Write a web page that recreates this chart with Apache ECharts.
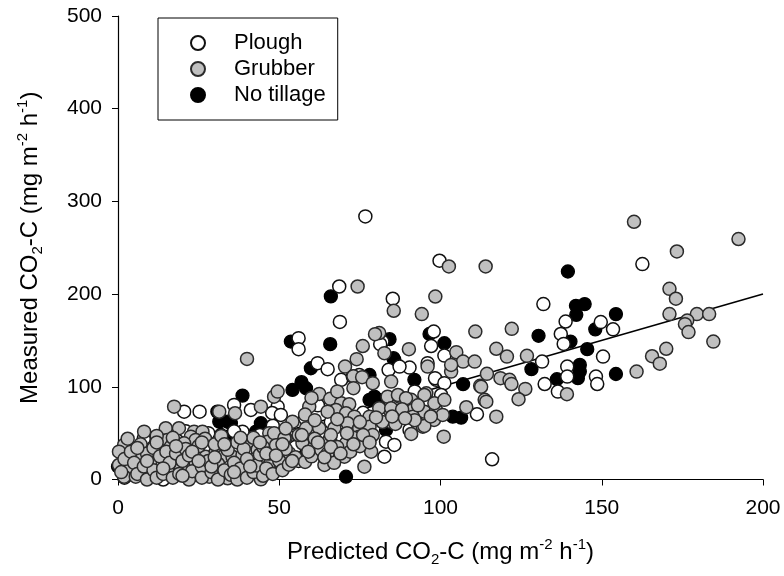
<!DOCTYPE html>
<html>
<head>
<meta charset="utf-8">
<script src="https://cdn.jsdelivr.net/npm/echarts@6/dist/echarts.min.js"></script>
<style>
  html, body { margin: 0; padding: 0; background: #fff; }
  #chart { width: 784px; height: 576px; }
</style>
</head>
<body>
<div id="chart"></div>
<script>
// Measured vs predicted soil CO2-C flux for three tillage systems.
const seriesNames = ['Plough', 'Grubber', 'No tillage'];
const xTicks = [0, 50, 100, 150, 200];
const yTicks = [0, 100, 200, 300, 400, 500];

// [predicted, measured] in mg m-2 h-1
const plough = [
  [76.7,283.8],[99.7,236],[162.6,232.4],[68.6,208.2],[68.8,170],[85.2,195],[131.9,189.2],[149.7,169.8],
  [153.5,162],[138.8,170.4],[137.3,157],[138.2,146.3],[150.4,132.6],[131.5,127.2],[132.3,103],[136.4,94.8],
  [139.3,121.8],[139.3,111],[148.2,111],[148.6,103],[111.3,70.4],[116,21.8],[97.9,159.6],[97.1,144],
  [90.4,120.7],[98.7,107.5],[90.4,53.5],[84.2,62.4],[83.1,40.8],[85.7,37.3],[82.6,24.6],[82,148.8],
  [56,152.5],[56,140.6],[81.3,146],[83.9,118.3],[61.9,125.5],[65,119],[69.2,107.5],[72.8,111],
  [74.8,112.8],[87.3,121.8],[96,125.5],[98.3,109.3],[101.2,103.9],[49.5,78.6],[51,58.9],[52.6,24.6],
  [20.5,73.2],[25.3,73.2],[36,80.5],[41.2,75],[38.6,51.6],[101.2,133.7],[100.2,91.2],
  [2,2],[4,12],[6,24],[10,32],[14,0],[16,40],[19,16],[24,28],[27,5],[30,44],[33,20],[36,52],
  [39,8],[41,30],[44,48],[46,20],[48,58],[47.8,71.8],[50.5,69.7],[53,46],[55,35],[58,66],
  [62,80],[64,38],[66,62],[69,48],[74,40],[76,72],[87,82],[92,95],[93,60],[96,84],
  [8,44],[21,52],[28,50],[45,12],[56,20]
];

const grubber = [
  [160,278],[192.4,259.4],[173.3,246],[171,205.7],[173,195],[171,178.4],[179.5,178.4],[183.3,178.4],
  [176.5,171.5],[175.8,167.6],[176.9,159],[184.6,148.8],[170,141],[165.6,133],[168,125],[160.8,116.4],
  [102.6,229.8],[114,229.8],[74.3,208.2],[110.8,159.6],[122.1,162.5],[117.3,141],[120.6,132.6],[126.8,133.4],
  [114.4,114],[118.6,109.3],[121.4,107.5],[122,103],[126.3,97.7],[124.2,86.6],[139.2,92],[112.3,101],
  [113.7,85.9],[117.3,67.8],[101,46.2],[104.9,137.4],[107,127.2],[110.6,127.2],[103.3,116.4],[103.3,123.6],
  [85.5,182],[94.2,178.4],[98.4,197.4],[82.6,136.3],[90.2,140.6],[96,121.8],[84.7,105.6],[95.6,93],
  [83.6,89.4],[87.3,89.4],[90.9,85.9],[112.6,100],[114.2,84],[84.2,75],[91.4,75],[95,73.2],
  [98.6,75],[98,64.3],[94.5,57],[90.9,49.1],[81,158],[79.7,156.8],[75.9,144],[74,129.8],
  [70.4,121.8],[73,111.4],[75.7,110.4],[73,98.5],[79,103.9],[48.4,89.4],[49.5,94.8],[62.4,92.3],
  [65.8,87],[69.2,82.3],[71.7,81.2],[67.6,75],[86.8,91.2],[89.3,87.7],[95,91.2],[98.1,82.3],
  [101.2,85.9],[59.3,78.6],[65,73.2],[70.7,71.5],[73.3,67.8],[78,67.8],[81,76.9],[84.7,76.9],
  [88.1,75.8],[91.4,67.8],[95,57.8],[100.7,69.7],[54.1,62.4],[58.3,55.3],[62.4,55.3],[67.1,55.3],
  [71.2,60.7],[74.8,55.3],[78,57],[48.4,42.7],[52,44.5],[57.2,39.1],[60.9,35.4],[65.5,42.7],
  [70.7,39.1],[74.8,46.2],[78.5,30],[76.4,13.8],[70.2,24.6],[64,15.7],[53.1,28.3],[46.9,50],
  [47.4,17.5],[17.4,78.6],[36.3,71.5],[31.4,73.2],[44.3,78.6],[40,130.1],[8.1,51.6],[14.8,55.3],
  [18.9,55.3],[23.6,51.6],[26.2,51.6],[1.9,37.3],[0.3,30],[15.3,42.7],[16.4,35.4],[22.6,46.2],
  [24.1,42.7],[20.5,39.1],[40.2,40.8],[43.3,31.9],[46.4,40.8],[48.4,50],[51.6,44.5],[27.2,24.6],
  [30.3,30],[32.4,24.6],[35.5,24.6],[38.6,26.5],[41.7,21],[47.4,19.2],[0.3,15.7],[3.9,12.1],
  [7,26.5],[10.7,19.2],[13.8,15.7],[17.4,22.9],[21.5,13.8],[24.1,17.5],[1.9,3],[5.5,3],
  [10.2,4.9],[15.3,10.3],[19.5,12.1],[23.6,4.9],[28.3,3],[34,1.3],[44.3,0.2],
  [1,8],[2,22],[4,30],[5,18],[6,6],[7,38],[8,14],[9,0],[9,28],[11,10],[11,34],[12,2],
  [12,47],[13,25],[14,6],[15,30],[16,18],[17,2],[17,45],[18,28],[19,6],[20,20],[21,33],[22,0],
  [22,26],[23,9],[25,36],[26,14],[26,2],[27,44],[28,20],[29,8],[30,38],[31,0],[31,17],[32,47],
  [33,10],[34,32],[35,5],[36,18],[37,40],[37,0],[38,12],[39,33],[40,2],[40,22],[42,8],[42,45],
  [43,15],[44,27],[45,4],[45,35],[46,12],[47,28],[48,6],[49,37],[50,20],[51,10],[52,33],[53,16],
  [55,24],[56,48],[58,19],[60,25],[61,44],[63,32],[65,28],[66,48],[67,18],[68,35],[72,30],[73,45],
  [75,36],[79,48],[82,62],[86,60],[92,64],[108,78],
  [3,44],[6,34],[9,20],[12,40],[14,12],[18,36],[20,4],[23,30],[25,20],[26,40],[29,14],[30,24],
  [33,38],[36,8],[38,45],[41,14],[44,40],[46,28],[49,26],[51,38],[54,20],[57,48],[59,30],[62,40],
  [64,24],[66,35],[69,28],[71,50],[73,38],[76,48],[78,40],[58,70],[61,64],[68,65],[75,62],[80,67],
  [85,68],[89,66],[93,80],[97,68],[60,88],[68,95],[52,55]
];

const noTillage = [
  [139.5,224.4],[142,187.4],[144.7,189.2],[142.1,177.6],[154.4,178.4],[148,162],[140.3,148.8],[130.4,155],
  [145.5,140.6],[128.2,119],[136.1,108.2],[143.2,123.6],[143.2,116.4],[142.6,109.3],[154.4,113.8],[107,102.8],
  [103.8,67.8],[106.4,66.7],[101.2,147],[96.6,157],[84.2,151.4],[85.7,129],[91.9,107.5],[83.1,53.5],
  [66,197.5],[53.6,148.8],[65.8,146],[85.4,130.9],[59.8,120],[78,112.8],[56.9,105],[54.1,96.6],
  [58.3,98.5],[79.5,89.4],[81,85.9],[78,85.9],[70.7,3],[57.2,30],[38.6,90.5],[31.4,62.4],
  [34,62.4],[44.3,60.7],[31.9,48],[34,46.2],[10.2,44.5],[42.8,51.6],[30.8,73.2],[35,60.7],[0,14]
];

// 1:1 reference line
const oneToOne = [[0, 0], [200, 200]];

const FONT = 'Arial, "Liberation Sans", sans-serif';

function axisTitle(pre) {
  return '{t|' + pre + ' CO}{sub|2}{t|-C (mg m}{sup|-2}{t| h}{sup|-1}{t|)}';
}
const titleRich = {
  t:   { fontSize: 24, lineHeight: 30, fontFamily: FONT, color: '#000' },
  sub: { fontSize: 15, lineHeight: 13, verticalAlign: 'bottom', fontFamily: FONT, color: '#000' },
  sup: { fontSize: 15, lineHeight: 13, verticalAlign: 'top', fontFamily: FONT, color: '#000' }
};

const markerBase = { symbol: 'circle', symbolSize: 13 };

const chart = echarts.init(document.getElementById('chart'), null, { renderer: 'canvas' });
chart.setOption({
  animation: false,
  backgroundColor: '#fff',
  grid: { left: 118, right: 21, top: 16, bottom: 96.5, containLabel: false },
  legend: {
    data: seriesNames,
    orient: 'vertical',
    left: 158, top: 18,
    padding: [14, 12, 14, 32],
    itemGap: 4,
    itemWidth: 14, itemHeight: 14,
    borderColor: '#000', borderWidth: 1,
    icon: 'circle',
    textStyle: { fontSize: 22, lineHeight: 21, fontFamily: FONT, color: '#000', padding: [0, 0, 0, 24] }
  },
  xAxis: {
    type: 'value', min: xTicks[0], max: xTicks[xTicks.length - 1], interval: 50,
    name: axisTitle('Predicted'), nameLocation: 'middle', nameGap: 58,
    nameTextStyle: { rich: titleRich },
    axisLine: { lineStyle: { color: '#000', width: 1.2 } },
    axisTick: { show: true, inside: false, length: 6, lineStyle: { color: '#000' } },
    axisLabel: { fontSize: 21, fontFamily: FONT, color: '#000', margin: 18 },
    splitLine: { show: false }
  },
  yAxis: {
    type: 'value', min: yTicks[0], max: yTicks[yTicks.length - 1], interval: 100,
    name: axisTitle('Measured'), nameLocation: 'middle', nameGap: 73, nameRotate: 90,
    nameTextStyle: { rich: titleRich },
    axisLine: { show: true, lineStyle: { color: '#000', width: 1.2 } },
    axisTick: { show: true, inside: false, length: 6, lineStyle: { color: '#000' } },
    axisLabel: { fontSize: 21, fontFamily: FONT, color: '#000', margin: 16 },
    splitLine: { show: false }
  },
  series: [
    {
      name: '1:1', type: 'line', data: oneToOne, symbol: 'none', silent: true,
      lineStyle: { color: '#000', width: 1.6 }, z: 1
    },
    Object.assign({
      name: 'No tillage', type: 'scatter', data: noTillage, clip: false, z: 2,
      itemStyle: { color: '#000', borderColor: '#000', borderWidth: 1.3, opacity: 1 }
    }, markerBase),
    Object.assign({
      name: 'Plough', type: 'scatter', data: plough, clip: false, z: 2,
      itemStyle: { color: '#fff', borderColor: '#111', borderWidth: 1.5, opacity: 1 }
    }, markerBase),
    Object.assign({
      name: 'Grubber', type: 'scatter', data: grubber, clip: false, z: 2,
      itemStyle: { color: '#c0c0c0', borderColor: '#2a2a2a', borderWidth: 1.5, opacity: 1 }
    }, markerBase)
  ]
});
</script>
</body>
</html>
